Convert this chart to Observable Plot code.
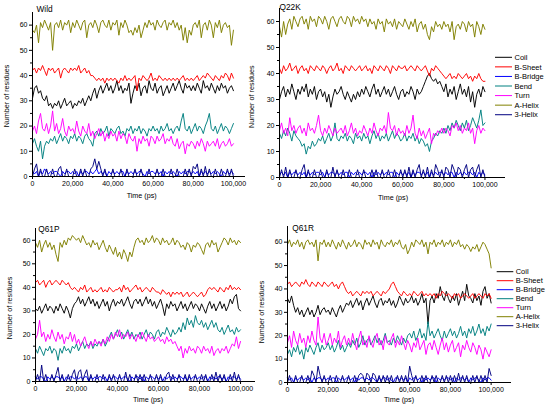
<!DOCTYPE html>
<html><head><meta charset="utf-8">
<script src="https://cdn.jsdelivr.net/npm/d3@7"></script>
<script src="https://cdn.jsdelivr.net/npm/@observablehq/plot@0.6"></script>
<style>
body{margin:0;background:#fff;}
#wrap{position:relative;width:550px;height:409px;overflow:hidden;font-family:"Liberation Sans",Arial,sans-serif;}
#wrap .pn{position:absolute;}
#over{position:absolute;left:0;top:0;}
</style></head><body><div id="wrap"></div>
<script>
// sample times (ps), one frame per 1000 ps
const times = d3.range(0, 100001, 1000);
const seriesNames = ["Coil","B-Sheet","B-Bridge","Bend","Turn","A-Helix","3-Helix"];
const seriesColors = ["#000000","#ff0000","#0000ff","#008080","#ff00ff","#808000","#000080"];
const yTicks = [0,10,20,30,40,50,60];
const yMinor = [5,15,25,35,45,55];
const xTicks = [0,20000,40000,60000,80000,100000];
const xMinor = [10000,30000,50000,70000,90000];
const panelTitles = ["Wild","Q22K","Q61P","Q61R"];

// ---- Wild ----
const wildCoil = [31,35,36,33,34,31,30,32,28,29, 27,29,28,30,27,29,31,28,29,30, 27,29,28,30,29,31,28,30,32,30, 33,35,31,34,36,33,35,37,34,36, 33,35,38,34,36,33,35,34,37,29, 33,36,34,37,32,35,36,33,38,35, 34,37,33,35,36,32,34,36,33,35, 37,34,36,38,35,33,37,35,36,34, 36,34,37,35,33,38,35,36,34,37, 35,33,36,34,37,35,36,33,35,36, 34];
const wildSheet = [42,43,41,43,42,44,42,40,43,42, 43,41,42,43,39,42,43,42,41,43, 42,43,42,44,41,42,43,41,42,40, 40,39,38,39,38,39,37,39,38,39, 38,39,38,37,39,38,40,38,39,38, 39,40,34,39,38,40,39,38,39,41, 38,39,38,40,39,38,39,38,39,38, 39,38,39,38,39,40,38,39,38,39, 38,39,40,38,39,40,39,41,40,39, 38,40,39,38,40,39,41,40,38,41, 39];
const wildBridge = [2,1,2,0,2,1,3,2,1,2, 1,2,2,1,0,2,1,2,2,1, 2,1,2,0,2,1,2,2,1,2, 1,2,3,1,2,1,2,0,2,1, 2,1,2,1,2,2,0,2,1,2, 1,2,1,2,2,1,0,2,1,2, 2,1,2,1,2,0,2,1,2,1, 2,1,0,2,1,2,1,2,2,1, 2,1,2,0,2,1,2,1,2,1, 2,1,2,1,0,2,1,2,1,2, 1];
const wildBend = [13,15,12,10,14,7,12,14,13,15, 14,16,13,15,17,14,16,15,13,16, 15,17,14,16,15,13,16,17,15,14, 12,17,18,16,19,17,18,20,16,19, 18,17,19,20,17,18,16,19,18,20, 17,19,18,20,17,19,18,16,19,18, 20,18,19,17,20,18,19,21,18,19, 17,19,20,18,22,25,19,18,20,17, 19,21,18,20,19,17,20,22,25,19, 18,20,17,19,21,18,20,19,17,19, 21];
const wildTurn = [18,20,17,22,25,19,18,21,17,20, 26,18,21,17,19,23,18,16,20,18, 19,17,22,18,16,20,18,17,21,16, 18,15,17,19,16,18,14,17,15,18, 16,17,14,18,15,17,16,13,17,15, 14,16,10,15,13,16,14,15,12,16, 15,13,16,14,15,17,13,15,14,16, 13,12,15,11,13,14,9,13,12,14, 13,11,14,12,15,13,10,14,12,13, 14,12,15,11,13,14,12,13,15,12, 13];
const wildAHelix = [58,57,60,53,61,59,62,60,58,61, 50,60,61,59,62,58,61,60,62,57, 61,59,62,60,58,61,62,55,60,61, 59,62,60,57,61,62,60,59,62,58, 61,60,62,56,61,59,62,60,57,58, 56,59,57,60,55,58,61,59,62,60, 61,58,62,60,59,61,62,58,61,60, 62,59,61,58,60,54,59,53,58,56, 60,61,59,62,55,60,61,58,62,60, 55,61,59,62,57,60,61,59,60,52, 58];
const wild3Helix = [0,3,5,0,3,0,0,3,0,0, 3,0,0,3,4,0,0,3,0,0, 0,3,0,0,3,0,3,0,0,3, 4,7,3,6,3,0,3,0,0,0, 3,0,0,0,3,0,0,3,0,0, 0,3,0,0,3,0,0,0,3,0, 0,0,3,0,0,3,0,0,0,3, 0,0,3,0,0,0,3,0,3,0, 4,3,5,0,3,0,4,0,3,0, 0,3,0,0,3,0,0,3,0,3, 0];

// ---- Q22K ----
const q22kCoil = [30,33,35,31,34,32,36,33,30,34, 32,35,33,36,31,34,32,35,30,33, 34,31,33,29,32,27,31,34,32,33, 35,32,30,33,31,29,32,30,33,31, 34,32,35,33,31,34,36,32,34,31, 33,35,32,34,31,33,35,32,30,33, 34,31,33,32,35,33,30,34,32,33, 35,37,39,40,38,37,38,36,37,35, 33,36,31,34,32,35,30,33,36,32, 34,31,35,29,33,27,32,34,31,35, 33];
const q22kSheet = [42,40,43,41,42,44,41,42,43,40, 42,43,41,42,40,43,42,41,43,42, 41,43,42,40,42,43,41,42,44,41, 42,40,43,42,41,43,42,41,42,43, 41,42,43,41,42,40,43,42,41,43, 42,41,43,42,40,43,42,41,43,42, 42,43,41,42,43,42,41,43,42,41, 42,43,41,39,42,41,43,42,41,40, 39,38,39,40,38,39,38,40,39,38, 39,40,38,39,37,39,38,40,38,37, 37];
const q22kBridge = [1,2,1,2,0,2,1,2,2,1, 2,1,2,0,2,1,2,1,2,2, 1,2,0,2,1,2,2,1,2,1, 2,1,2,2,0,2,1,2,1,2, 1,2,2,1,2,0,2,1,2,1, 2,1,2,1,2,2,0,2,1,2, 1,2,1,2,0,2,1,2,2,1, 2,1,2,0,2,1,2,1,2,2, 1,2,1,2,2,0,2,1,2,1, 2,1,2,2,1,2,0,2,1,2, 1];
const q22kBend = [17,15,18,16,19,17,14,18,16,15, 14,12,13,9,12,11,14,12,13,15, 14,16,13,15,17,14,16,21,15,14, 16,15,17,14,16,15,13,17,15,16, 14,17,15,16,13,16,18,15,17,14, 16,15,17,14,16,18,15,17,16,14, 15,17,14,16,15,17,14,16,13,15, 14,12,13,10,14,15,17,16,18,17, 19,17,20,18,21,19,22,20,18,21, 19,22,18,20,23,21,19,22,26,20, 21];
const q22kTurn = [18,21,17,19,16,23,18,20,17,19, 20,17,19,16,21,18,19,17,20,24, 18,16,19,17,20,18,16,19,17,18, 19,17,20,16,18,21,17,19,16,18, 17,20,18,16,19,17,21,18,16,19, 18,20,17,25,19,18,20,16,19,17, 18,16,20,17,19,24,17,15,19,16, 18,15,17,19,13,17,16,18,17,19, 17,19,18,16,20,19,21,18,20,17, 19,18,21,17,19,13,18,20,17,19, 18];
const q22kAHelix = [58,54,60,55,59,61,57,62,60,58, 61,62,59,61,57,62,60,61,58,62, 61,59,62,60,57,61,62,60,58,61, 62,60,59,62,61,58,62,60,61,59, 62,60,61,58,61,59,60,57,61,59, 60,56,61,59,60,58,61,57,60,59, 58,61,59,57,60,58,61,56,59,60, 57,59,55,53,58,56,60,58,59,57, 60,58,59,56,60,53,58,59,57,60, 59,56,60,58,59,54,60,58,55,59, 57];
const q22k3Helix = [0,3,0,4,0,3,0,0,3,0, 0,3,5,0,3,0,0,3,0,0, 3,0,0,3,0,0,4,0,3,0, 0,3,0,0,3,0,0,0,3,0, 0,3,0,0,0,3,0,3,0,0, 3,0,0,3,0,0,3,0,0,3, 0,3,0,4,0,3,0,3,5,0, 3,0,4,0,3,0,5,3,0,3, 0,4,3,0,5,3,0,4,3,0, 3,5,0,3,4,0,3,5,0,3, 0];

// ---- Q61P ----
const q61pCoil = [31,30,32,29,31,33,30,32,31,29, 32,30,33,31,29,32,30,27,31,33, 34,36,33,35,32,34,36,33,35,32, 34,31,33,35,32,34,30,33,35,32, 34,33,35,32,34,36,33,31,34,35, 33,35,32,34,36,33,35,32,34,31, 33,35,32,28,33,31,34,32,33,30, 32,34,31,33,30,32,34,31,33,32, 30,33,31,29,32,34,31,33,30,32, 34,31,33,30,32,35,33,36,37,31, 30];
const q61pSheet = [42,43,41,42,43,40,42,43,41,42, 43,42,41,43,42,41,42,40,39,40, 39,38,40,39,41,38,39,40,38,39, 38,39,40,38,39,38,40,39,38,39, 39,40,38,41,39,40,38,39,40,41, 39,40,38,39,40,39,38,40,39,38, 38,37,39,38,37,38,36,38,37,38, 37,38,36,37,38,36,37,38,37,36, 37,38,36,37,39,40,39,40,39,38, 40,39,38,40,39,41,39,40,39,40, 39];
const q61pBridge = [2,1,2,2,1,0,2,1,2,1, 2,2,1,2,0,2,1,2,2,1, 2,1,2,1,2,2,0,2,1,2, 1,2,2,1,2,0,2,1,2,2, 1,2,1,2,2,1,0,2,1,2, 2,1,2,0,2,1,2,2,1,2, 1,2,0,2,1,2,2,1,2,1, 2,2,1,2,0,2,1,2,2,1, 2,1,2,2,0,2,1,2,1,2, 2,1,2,0,2,1,2,2,1,2, 1];
const q61pBend = [14,12,15,13,11,14,13,15,12,14, 13,9,14,12,15,13,14,12,15,14, 16,13,15,17,14,16,15,17,14,16, 15,17,16,18,15,17,19,21,18,20, 22,19,21,18,20,22,19,21,18,20, 19,21,18,20,22,19,21,20,18,21, 22,19,21,20,23,21,19,22,20,21, 23,21,25,22,27,24,26,23,28,25, 24,26,23,25,22,24,26,23,25,22, 21,23,20,22,24,21,22,20,23,21, 22];
const q61pTurn = [18,20,26,19,21,17,20,18,22,19, 17,21,18,20,16,19,18,21,17,20, 16,18,15,17,19,16,14,17,15,18, 16,17,15,18,16,19,17,20,18,21, 19,22,18,20,19,21,18,20,19,17, 20,18,21,19,17,20,18,19,17,18, 19,17,18,16,19,17,18,16,17,15, 13,15,10,14,12,15,13,14,12,15, 14,12,15,13,14,12,15,11,13,14, 12,14,13,15,12,14,16,15,19,14, 17];
const q61pAHelix = [59,57,60,55,58,60,57,59,56,58, 54,51,59,57,60,58,61,60,62,61, 60,61,59,62,60,58,59,57,60,58, 59,56,58,60,57,55,58,56,54,57, 53,55,52,56,54,51,55,53,57,60, 61,59,60,58,61,59,60,62,59,61, 60,58,61,59,60,58,59,61,58,60, 59,57,58,56,59,58,55,58,57,59, 58,56,54,58,59,57,60,58,59,55, 57,59,61,60,58,61,59,60,58,60, 59];
const q61p3Helix = [0,3,0,7,0,3,0,0,3,0, 3,6,0,3,0,0,3,0,3,5, 0,4,5,0,3,5,0,3,0,0, 3,0,0,3,0,0,3,0,3,0, 0,3,0,0,4,0,3,0,0,3, 0,3,0,3,0,0,3,0,0,3, 0,3,0,0,3,4,0,3,0,0, 3,0,0,3,0,3,0,0,3,0, 0,3,0,3,0,0,3,0,4,0, 3,0,3,0,0,3,0,4,0,3, 0];

// ---- Q61R ----
const q61rCoil = [36,34,37,33,30,32,29,31,28,30, 32,29,31,28,30,33,29,31,32,30, 31,29,32,30,28,31,33,30,32,34, 33,35,32,34,36,33,35,31,34,36, 33,35,37,34,32,35,36,33,35,34, 36,33,35,32,34,37,35,33,36,34, 35,37,34,36,33,35,38,34,36,25, 35,37,34,38,36,41,37,35,39,36, 34,37,35,38,33,36,39,35,42,37, 36,34,38,35,37,33,39,41,36,38, 34];
const q61rSheet = [42,43,41,42,43,42,41,43,42,44, 42,41,43,42,41,43,42,41,43,42, 41,42,43,41,42,40,42,43,41,39, 38,39,37,38,39,38,37,39,38,39, 38,39,37,38,39,38,37,39,38,39, 40,42,43,41,39,38,37,39,38,37, 38,37,39,38,37,38,39,37,38,37, 38,37,38,36,38,37,39,38,37,38, 37,36,38,37,38,36,37,38,37,36, 37,38,36,37,38,37,36,38,37,38, 36];
const q61rBridge = [2,1,2,0,2,1,2,2,1,2, 1,2,0,2,1,2,2,1,2,1, 2,1,2,2,0,2,1,2,1,2, 2,1,2,0,2,1,2,2,1,2, 1,2,2,1,0,2,1,2,2,1, 2,1,0,2,2,1,2,1,2,0, 2,1,2,2,1,2,0,2,1,2, 1,2,2,0,2,1,2,1,2,2, 1,2,0,2,1,2,2,1,2,0, 2,1,2,2,1,0,2,1,2,2, 1];
const q61rBend = [12,14,11,15,13,16,12,14,10,15, 13,16,14,12,15,17,13,16,14,15, 17,14,16,13,15,18,14,16,13,15, 17,15,18,16,19,15,17,20,16,18, 19,16,18,20,17,19,16,18,21,17, 18,16,19,17,20,18,16,19,17,20, 21,19,22,18,20,23,19,21,18,26, 20,22,19,21,23,20,18,22,19,21, 23,20,22,19,21,24,20,22,19,23, 21,24,20,22,25,21,23,20,24,22, 25];
const q61rTurn = [17,20,15,22,18,16,21,17,19,15, 20,17,22,18,16,28,19,17,21,16, 18,21,16,19,17,22,15,18,20,16, 19,16,21,17,14,19,22,16,18,15, 20,17,15,19,21,16,18,14,20,17, 16,19,21,15,18,16,20,17,14,18, 16,13,17,15,19,14,16,18,12,16, 17,14,18,15,12,16,19,14,17,13, 16,18,13,15,17,11,16,14,18,15, 13,17,15,12,16,14,10,15,13,11, 14];
const q61rAHelix = [59,61,58,60,59,61,58,60,57,60, 61,59,60,58,61,52,60,59,61,58, 60,58,61,59,57,60,58,61,59,57, 60,58,59,61,58,60,59,57,61,59, 60,58,61,59,60,57,61,59,58,60, 59,61,58,60,59,61,58,57,59,55, 57,60,58,61,60,59,61,58,60,55, 60,59,61,58,60,59,61,58,60,59, 61,58,60,59,61,58,59,57,59,58, 56,58,57,59,56,58,60,59,57,55, 49];
const q61r3Helix = [0,3,0,0,3,0,0,3,0,0, 3,0,5,3,0,7,3,0,3,0, 0,3,0,0,3,0,0,3,0,0, 3,0,0,3,0,3,4,3,0,4, 3,0,4,3,0,3,0,3,0,3, 0,3,0,0,3,0,3,0,3,0, 7,3,0,3,0,0,3,0,3,0, 0,3,0,3,0,0,3,0,3,0, 3,0,3,0,4,0,3,0,3,0, 0,3,0,3,0,3,0,3,0,6, 3];

const panels = [
  {series:[wildCoil,wildSheet,wildBridge,wildBend,wildTurn,wildAHelix,wild3Helix], left:0, top:0, width:255, height:196, ml:32, mr:10, mt:12, mb:20, xMax:106000, yMax:65},
  {series:[q22kCoil,q22kSheet,q22kBridge,q22kBend,q22kTurn,q22kAHelix,q22k3Helix], left:250, top:0, width:265, height:197, ml:29, mr:10, mt:8, mb:20, xMax:110000, yMax:65},
  {series:[q61pCoil,q61pSheet,q61pBridge,q61pBend,q61pTurn,q61pAHelix,q61p3Helix], left:0, top:205, width:265, height:196, ml:35, mr:10, mt:23, mb:20, xMax:107300, yMax:65},
  {series:[q61rCoil,q61rSheet,q61rBridge,q61rBend,q61rTurn,q61rAHelix,q61r3Helix], left:250, top:205, width:271, height:197, ml:37, mr:10, mt:21, mb:20, xMax:110000, yMax:66.7}
];

const wrap = document.getElementById("wrap");
const fmt = d3.format(",");

panels.forEach(cfg => {
  const marks = [];
  seriesNames.forEach((name, i) => {
    const rows = times.map((t, j) => ({t, v: cfg.series[i][j]}));
    marks.push(Plot.line(rows, {x: "t", y: "v", stroke: seriesColors[i], strokeWidth: 0.95}));
  });
  marks.push(Plot.ruleY([0], {stroke: "#000", strokeWidth: 1}));
  marks.push(Plot.ruleX([0], {stroke: "#000", strokeWidth: 1}));
  marks.push(Plot.axisX(xTicks, {tickSize: 3, tickPadding: 2, tickFormat: fmt, fontSize: 7, label: null}));
  marks.push(Plot.axisX(xMinor, {tickSize: 2, tickFormat: () => "", label: null}));
  marks.push(Plot.axisY(yTicks, {tickSize: 3, tickPadding: 2, fontSize: 7, label: null}));
  marks.push(Plot.axisY(yMinor, {tickSize: 2, tickFormat: () => "", label: null}));
  const svg = Plot.plot({
    width: cfg.width, height: cfg.height,
    marginLeft: cfg.ml, marginRight: cfg.mr, marginTop: cfg.mt, marginBottom: cfg.mb,
    x: {domain: [0, cfg.xMax], label: null},
    y: {domain: [0, cfg.yMax], label: null},
    style: {fontFamily: "'Liberation Sans', Arial, sans-serif", fontSize: "7px", color: "#000", background: "transparent", overflow: "visible"},
    marks
  });
  const div = document.createElement("div");
  div.className = "pn";
  div.style.left = cfg.left + "px";
  div.style.top = cfg.top + "px";
  div.appendChild(svg);
  wrap.appendChild(div);
});

// overlay: titles, axis titles, legends
const over = d3.select(wrap).append("svg").attr("id", "over").attr("width", 550).attr("height", 409)
  .style("font-family", "'Liberation Sans', Arial, sans-serif");

const titlePos = [[36.5, 12.3], [279.5, 10.3], [38.3, 232], [292.3, 231.3]];
panelTitles.forEach((t, i) => {
  over.append("text").attr("x", titlePos[i][0]).attr("y", titlePos[i][1]).attr("font-size", 8.3).attr("fill", "#000").text(t);
});
const yLabPos = [[9.2, 96], [254.2, 96.7], [11.8, 308], [264.2, 312]];
yLabPos.forEach(([x, y]) => {
  over.append("text").attr("transform", `translate(${x},${y}) rotate(-90)`).attr("text-anchor", "middle")
    .attr("font-size", 7.2).attr("fill", "#000").text("Number of residues");
});
const xLabPos = [[141.7, 197.5], [393, 199.8], [148, 401.5], [399, 401.5]];
xLabPos.forEach(([x, y]) => {
  over.append("text").attr("x", x).attr("y", y).attr("text-anchor", "middle")
    .attr("font-size", 7.2).attr("fill", "#000").text("Time (ps)");
});

const legends = [{x1: 495, x2: 512, tx: 514.5, y0: 57.3, dy: 9.57}, {x1: 496.7, x2: 513.3, tx: 515.7, y0: 271.7, dy: 9.0}];
legends.forEach(L => {
  seriesNames.forEach((name, i) => {
    const y = L.y0 + i * L.dy;
    over.append("line").attr("x1", L.x1).attr("x2", L.x2).attr("y1", y).attr("y2", y)
      .attr("stroke", seriesColors[i]).attr("stroke-width", 1);
    over.append("text").attr("x", L.tx).attr("y", y + 2.7).attr("font-size", 7.5).attr("fill", "#000").text(name);
  });
});
</script></body></html>
